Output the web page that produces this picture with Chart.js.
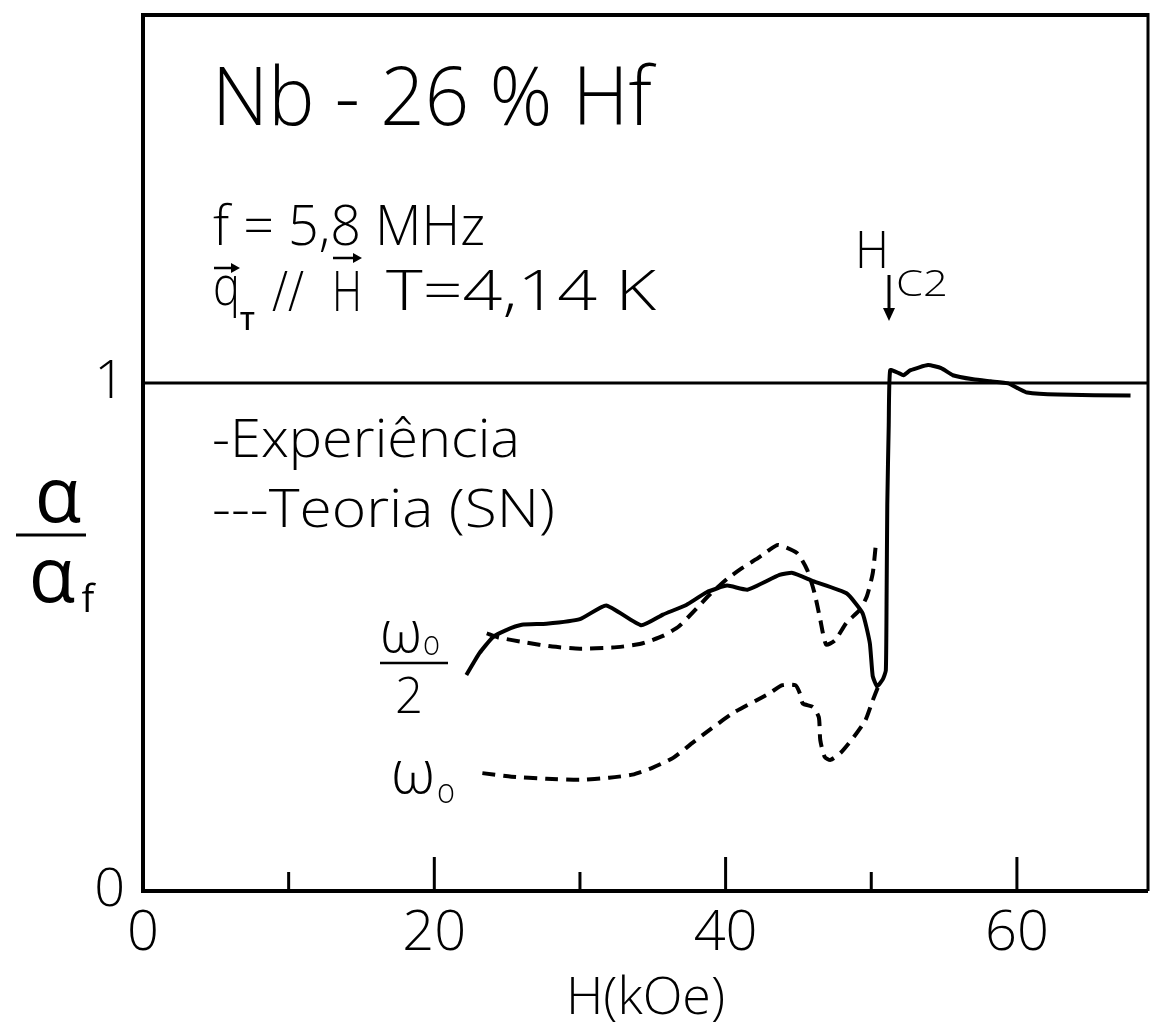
<!DOCTYPE html>
<html><head><meta charset="utf-8">
<script src="https://cdn.jsdelivr.net/npm/chart.js@4.4.1/dist/chart.umd.min.js"></script>
<style>html,body{margin:0;padding:0;background:#fff;}canvas{display:block}</style>
</head><body>
<canvas id="c" width="1150" height="1025"></canvas>
<script>
// ---- data (H in kOe, ratio alpha/alpha_f) ----
const expH     = [22.2,23.1,24.0,24.9,26.0,27.7,30.0,31.8,34.2,35.7,37.3,38.7,40.1,41.5,43.7,44.6,46.0,48.3,49.4,49.9,50.1,50.4,50.8,51.0,51.05,51.1,51.2,51.3,51.9,52.2,52.7,53.9,54.8,55.6,57.0,58.2,59.4,60.1,60.7,62.8,67.8];
const expRatio = [0.425,0.468,0.499,0.513,0.524,0.526,0.535,0.562,0.523,0.544,0.563,0.588,0.601,0.593,0.622,0.626,0.610,0.586,0.547,0.488,0.423,0.403,0.417,0.434,0.565,0.761,0.917,1.025,1.019,1.015,1.025,1.035,1.029,1.015,1.007,1.003,0.999,0.989,0.981,0.977,0.975];

const halfH     = [23.6,24.4,26.3,28.1,30.0,32.2,34.1,35.7,36.8,38.0,38.9,40.1,41.0,42.1,42.8,43.6,44.9,45.6,46.1,46.5,46.9,47.5,48.3,49.2,49.7,50.1,50.3];
const halfRatio = [0.507,0.499,0.489,0.481,0.477,0.479,0.486,0.502,0.521,0.556,0.583,0.614,0.633,0.653,0.667,0.681,0.665,0.632,0.587,0.534,0.485,0.493,0.528,0.553,0.580,0.625,0.678];

const fullH     = [23.3,25.3,27.7,30.0,32.0,33.6,35.0,36.4,37.7,38.9,40.5,42.1,43.0,43.9,44.8,45.1,45.3,46.0,46.4,46.5,46.8,47.2,47.9,48.8,49.6,50.1,50.5];
const fullRatio = [0.232,0.225,0.221,0.219,0.223,0.229,0.243,0.262,0.291,0.317,0.350,0.375,0.389,0.405,0.405,0.389,0.369,0.362,0.342,0.297,0.264,0.258,0.272,0.303,0.336,0.375,0.404];

const refH     = [0, 69];
const refRatio = [1, 1];

const xTickValues = [0,10,20,30,40,50,60];
const xTickLabels = ['0','','20','','40','','60'];
const yTickValues = [0,1];
const yTickLabels = ['0','1'];

const FONT = "'Open Sans','DejaVu Sans',sans-serif";
const pts = (xs, ys) => xs.map((x,i)=>({x:x,y:ys[i]}));

function fitText(ctx, text, x, y, size, width){
  ctx.save();
  ctx.font = `300 ${size}px ${FONT}`;
  ctx.textBaseline = 'alphabetic';
  ctx.textAlign = 'left';
  const w = ctx.measureText(text).width;
  ctx.translate(x, y);
  if (width) ctx.scale(width / w, 1);
  ctx.fillText(text, 0, 0);
  ctx.restore();
}
function line(ctx, x1,y1,x2,y2,w){
  ctx.beginPath(); ctx.lineWidth=w; ctx.moveTo(x1,y1); ctx.lineTo(x2,y2); ctx.stroke();
}

const decor = {
  id:'decor',
  beforeDraw(chart){
    const ctx = chart.ctx;
    ctx.save(); ctx.fillStyle='#fff'; ctx.fillRect(0,0,chart.width,chart.height); ctx.restore();
  },
  afterDraw(chart){
    const ctx = chart.ctx, a = chart.chartArea, xs = chart.scales.x;
    ctx.save();
    ctx.strokeStyle = '#000'; ctx.fillStyle = '#000'; ctx.lineCap='butt';
    // frame
    line(ctx, a.left, a.top-2, a.left, a.bottom+2, 4);
    line(ctx, a.left-2, a.bottom, a.right, a.bottom, 4);
    line(ctx, a.left-2, a.top, a.right, a.top, 4);
    line(ctx, a.right, a.top-2, a.right, a.bottom, 3);
    // inward ticks
    xTickValues.forEach(v=>{
      if (v===0) return;
      const p = xs.getPixelForValue(v);
      const len = (v % 20 === 0) ? 34 : 19;
      line(ctx, p, a.bottom, p, a.bottom-len, 3);
    });
    // y axis title alpha / alpha_f
    ctx.font = `400 76px ${FONT}`;
    ctx.textAlign='center'; ctx.textBaseline='alphabetic';
    ctx.fillText('α', 58, 522);
    line(ctx, 16, 535, 86, 535, 3);
    ctx.fillText('α', 52, 602);
    ctx.font = `400 38px ${FONT}`;
    ctx.fillText('f', 88, 612);
    // annotations
    ctx.textAlign='left';
    fitText(ctx, 'Nb - 26 % Hf', 212, 125, 82, 440);
    fitText(ctx, 'f = 5,8 MHz', 213, 245, 55, 272);
    // q_T // H
    fitText(ctx, 'q', 213, 305, 55, 27);
    ctx.font = `600 26px ${FONT}`;
    ctx.fillText('T', 240, 330);
    line(ctx, 214, 268, 236, 268, 2.5);
    ctx.beginPath(); ctx.moveTo(240,268); ctx.lineTo(231,263); ctx.lineTo(231,273); ctx.closePath(); ctx.fill();
    fitText(ctx, '//', 272, 311, 55, 32);
    fitText(ctx, 'H', 332, 311, 55, 30);
    line(ctx, 333, 258, 357, 258, 2.5);
    ctx.beginPath(); ctx.moveTo(362,258); ctx.lineTo(353,253); ctx.lineTo(353,263); ctx.closePath(); ctx.fill();
    fitText(ctx, 'T=4,14 K', 386, 310, 55, 270);
    // Hc2
    fitText(ctx, 'H', 855, 268, 52, 34);
    fitText(ctx, 'C2', 896, 296, 36, 52);
    line(ctx, 889, 275, 889, 310, 3);
    ctx.beginPath(); ctx.moveTo(883,308); ctx.lineTo(895,308); ctx.lineTo(889,321); ctx.closePath(); ctx.fill();
    // legend texts
    fitText(ctx, '-Experiência', 212, 457, 54, 308);
    fitText(ctx, '---Teoria (SN)', 212, 527, 54, 343);
    // omega labels
    fitText(ctx, 'ω', 380, 652, 58, 42);
    fitText(ctx, 'o', 423, 655, 34, 17);
    line(ctx, 380, 663, 448, 663, 2.5);
    fitText(ctx, '2', 395, 713, 50, 28);
    fitText(ctx, 'ω', 391, 793, 60, 44);
    fitText(ctx, 'o', 437, 803, 34, 18);
    ctx.restore();
  }
};

new Chart(document.getElementById('c'), {
  type:'scatter',
  data:{ datasets:[
    {label:'H/Hf = 1', data:pts(refH, refRatio), showLine:true, borderColor:'#000', borderWidth:3, pointRadius:0},
    {label:'Experiência', data:pts(expH, expRatio), showLine:true, borderColor:'#000', borderWidth:4, pointRadius:0, tension:0.15},
    {label:'Teoria (SN) ω0/2', data:pts(halfH, halfRatio), showLine:true, borderColor:'#000', borderWidth:4, borderDash:[13,8], pointRadius:0, tension:0.2},
    {label:'Teoria (SN) ω0', data:pts(fullH, fullRatio), showLine:true, borderColor:'#000', borderWidth:4, borderDash:[13,8], pointRadius:0, tension:0.2}
  ]},
  options:{
    responsive:false, animation:false, devicePixelRatio:1,
    layout:{padding:{top:15,right:2,left:0,bottom:0}},
    plugins:{legend:{display:false}, tooltip:{enabled:false}},
    scales:{
      x:{type:'linear', min:0, max:69,
        afterBuildTicks:(s)=>{ s.ticks = xTickValues.map(v=>({value:v})); },
        afterFit:(s)=>{ s.height = 134; s.paddingLeft = 0; s.paddingRight = 0; },
        grid:{display:false, drawTicks:false}, border:{display:false},
        ticks:{color:'#000', padding:9, maxRotation:0, autoSkip:false,
          font:{family:FONT, size:56, weight:'300'},
          callback:(v)=>{ const i = xTickValues.indexOf(v); return i>=0 ? xTickLabels[i] : ''; }},
        title:{display:true, text:'H(kOe)', color:'#000', padding:{top:0,bottom:0},
          font:{family:FONT, size:52, weight:'300', lineHeight:1}}
      },
      y:{type:'linear', min:0, max:1.724,
        afterBuildTicks:(s)=>{ s.ticks = yTickValues.map(v=>({value:v})); },
        afterFit:(s)=>{ s.width = 143; s.paddingTop = 0; s.paddingBottom = 0; },
        grid:{display:false, drawTicks:false}, border:{display:false},
        ticks:{color:'#000', padding:18, autoSkip:false,
          font:{family:FONT, size:54, weight:'300'},
          callback:(v)=>{ const i = yTickValues.indexOf(v); return i>=0 ? yTickLabels[i] : ''; }}
      }
    }
  },
  plugins:[decor]
});
</script>
</body></html>
